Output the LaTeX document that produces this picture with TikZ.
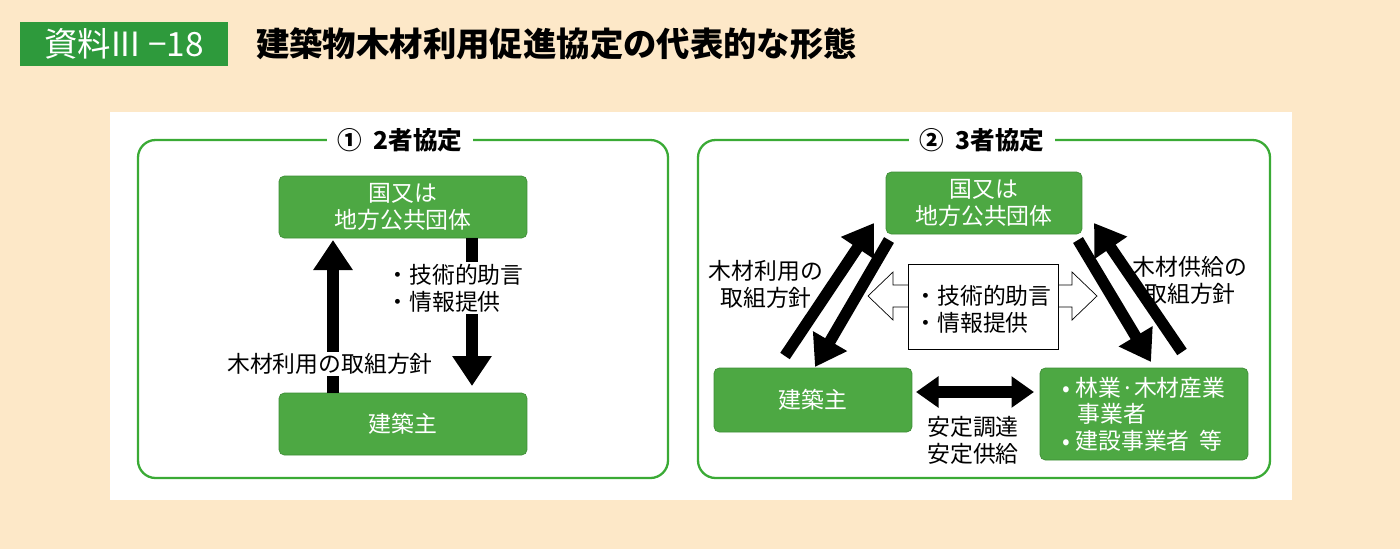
\documentclass[tikz,border=0pt]{standalone}
\usepackage{fontspec}
\setmainfont{Noto Sans CJK JP}
\usetikzlibrary{arrows.meta}
\definecolor{bgbeige}{HTML}{FDE8C8}
\definecolor{tagGreen}{HTML}{2E9A3C}
\definecolor{boxGreen}{HTML}{4DA843}
\definecolor{boxEdge}{HTML}{3E8E36}
\definecolor{frameGreen}{HTML}{3AAA35}
\begin{document}
\begin{tikzpicture}[x=0.02cm,y=-0.02cm]
  \tikzstyle{orgbox}=[rectangle,rounded corners=3pt,fill=boxGreen,draw=boxEdge,text=white,align=center,font=\fontsize{13}{15}\selectfont,inner sep=0pt]
  \tikzstyle{frame}=[draw=frameGreen,line width=1.3pt,rounded corners=10pt]
  \tikzstyle{frametitle}=[fill=white,font=\fontsize{14}{16}\selectfont\bfseries,inner xsep=6pt]
  \tikzstyle{lbl}=[align=left,font=\fontsize{13}{15.5}\selectfont]
  \tikzstyle{bigarrow}=[line width=6.5pt,-{Triangle[length=0.6cm,width=0.75cm]}]
  \tikzstyle{bigdouble}=[line width=6.5pt,{Triangle[length=0.45cm,width=0.6cm]}-{Triangle[length=0.45cm,width=0.6cm]}]
  \useasboundingbox (0,0) rectangle (1400,549);
  \fill[bgbeige] (0,0) rectangle (1400,549);
  \fill[white] (110,112) rectangle (1292,500);

  % heading
  \node[fill=tagGreen,text=white,minimum width=4.16cm,minimum height=0.88cm,font=\fontsize{19}{21}\selectfont] (tag) at (124,44) {資料III −18};
  \node[anchor=west,font=\fontsize{19}{21}\selectfont\bfseries] (head) at (250,44) {建築物木材利用促進協定の代表的な形態};

  % frame 1
  \draw[frame] (138,140) rectangle (668,478);
  \node[frametitle] (t1) at (400,140) {①\ \ 2者協定};
  \node[orgbox,minimum width=4.96cm,minimum height=1.24cm] (gov1) at (403,207) {国又は\\地方公共団体};
  \node[orgbox,minimum width=4.96cm,minimum height=1.24cm] (own1) at (403,424) {建築主};
  \draw[bigarrow] (333,393) -- (333,240);
  \draw[bigarrow] (472,238) -- (472,386);
  \node[lbl,fill=white,inner sep=1pt] (adv1) at (455,288) {・技術的助言\\・情報提供};
  \node[lbl,fill=white,inner sep=1pt] (pol1) at (330,364) {木材利用の取組方針};

  % frame 2
  \draw[frame] (698,140) rectangle (1270,478);
  \node[frametitle] (t2) at (982,140) {②\ \ 3者協定};
  \node[orgbox,minimum width=3.92cm,minimum height=1.24cm] (gov2) at (984,203) {国又は\\地方公共団体};
  \node[orgbox,minimum width=3.96cm,minimum height=1.28cm] (own2) at (813,400) {建築主};
  \node[orgbox,align=left,minimum width=4.16cm,minimum height=1.84cm] (ind2) at (1144,414) {•\ 林業·木材産業\\\ \ \ 事業者\\•\ 建設事業者\ \ 等};
  \draw[bigarrow] (785,356) -- (874,223);
  \draw[bigarrow] (889,240) -- (815,367);
  \draw[bigarrow] (1078,240) -- (1151,362);
  \draw[bigarrow] (1182,352) -- (1094,223);
  % hollow two-way arrow
  \draw[fill=white] (868,296) -- (893,272) -- (893,285) -- (1072,285) -- (1072,272) -- (1097,296)
    -- (1072,320) -- (1072,307) -- (893,307) -- (893,320) -- cycle;
  \node[draw,fill=white,minimum width=3.0cm,minimum height=1.7cm] (advbox) at (983,307) {};
  \node[lbl] (adv2) at (983,309) {・技術的助言\\・情報提供};
  \draw[bigdouble] (916,392) -- (1034,392);
  \node[lbl,align=center] (sup2) at (973,440) {安定調達\\安定供給};
  \node[lbl,align=center] (pol2) at (766,284) {木材利用の\\取組方針};
  \node[lbl,align=center] (pol3) at (1190,280) {木材供給の\\取組方針};
\end{tikzpicture}
\end{document}
